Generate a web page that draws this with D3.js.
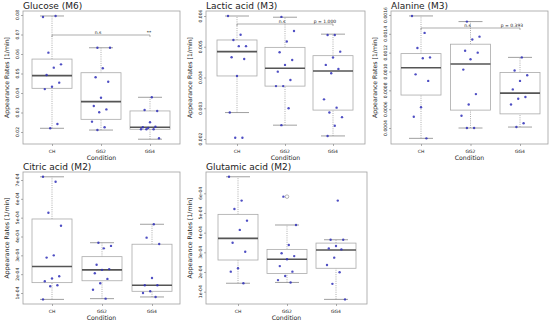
<html>
<head>
<meta charset="utf-8">
<title>Appearance rates</title>
<style>
* { margin: 0; padding: 0; }
body { background: #fff; font-family: "DejaVu Sans", sans-serif; }
svg text { font-family: "DejaVu Sans", sans-serif; fill: #222; }
</style>
<script src="https://cdn.jsdelivr.net/npm/d3@7"></script>
</head>
<body>
<div id="chart"></div>
<script>
// groups along the x axis
var groups = ["CH", "GG2", "GG4"];

// box stats per group: [lower whisker, q1, median, q3, upper whisker]
var glucoseBoxes = [[0.0219, 0.0424, 0.0489, 0.0574, 0.0795], [0.0210, 0.0265, 0.0356, 0.0504, 0.0632], [0.0163, 0.0214, 0.0224, 0.0308, 0.0378]];
var glucosePoints = [
  [0.0790, 0.0795, 0.0607, 0.0547, 0.0530, 0.0492, 0.0453, 0.0432, 0.0420, 0.0241, 0.0219],
  [0.0632, 0.0632, 0.0527, 0.0481, 0.0458, 0.0376, 0.0333, 0.0316, 0.0301, 0.0253, 0.0224, 0.0210],
  [0.0378, 0.0313, 0.0308, 0.0250, 0.0224, 0.0227, 0.0221, 0.0214, 0.0214, 0.0214, 0.0168]];
var glucoseTicks = [0.02, 0.03, 0.04, 0.05, 0.06, 0.07, 0.08];

var lacticBoxes = [[0.00286, 0.00405, 0.00484, 0.00522, 0.00600], [0.00245, 0.00372, 0.00430, 0.00498, 0.00596], [0.00210, 0.00294, 0.00421, 0.00471, 0.00541]];
var lacticPoints = [
  [0.00600, 0.00539, 0.00522, 0.00502, 0.00502, 0.00466, 0.00460, 0.00405, 0.00286, 0.00204, 0.00204],
  [0.00597, 0.00551, 0.00517, 0.00482, 0.00457, 0.00441, 0.00419, 0.00392, 0.00372, 0.00372, 0.00300, 0.00245],
  [0.00538, 0.00538, 0.00484, 0.00465, 0.00441, 0.00428, 0.00414, 0.00329, 0.00302, 0.00286, 0.00271, 0.00243, 0.00210]];
var lacticTicks = [0.002, 0.003, 0.004, 0.005, 0.006];

var alanineBoxes = [[0.00029, 0.00075, 0.00104, 0.00119, 0.00159], [0.00040, 0.00059, 0.00108, 0.00129, 0.00153], [0.00041, 0.00055, 0.00077, 0.00099, 0.00115]];
var alaninePoints = [
  [0.00159, 0.00141, 0.00125, 0.00115, 0.00114, 0.00097, 0.00090, 0.00062, 0.00052, 0.00029],
  [0.00153, 0.00137, 0.00134, 0.00122, 0.00120, 0.00113, 0.00102, 0.00076, 0.00065, 0.00053, 0.00040, 0.00040],
  [0.00115, 0.00101, 0.00096, 0.00090, 0.00081, 0.00073, 0.00071, 0.00065, 0.00045, 0.00041]];
var alanineTicks = [0.0004, 0.0006, 0.0008, 0.0010, 0.0012, 0.0014, 0.0016];

var citricBoxes = [[0.66e-4, 1.55e-4, 2.41e-4, 4.93e-4, 7.17e-4], [0.70e-4, 1.65e-4, 2.23e-4, 2.93e-4, 3.67e-4], [0.79e-4, 1.09e-4, 1.41e-4, 3.59e-4, 4.65e-4]];
var citricPoints = [
  [7.17e-4, 6.91e-4, 5.26e-4, 4.57e-4, 3.00e-4, 2.88e-4, 1.89e-4, 1.77e-4, 1.62e-4, 1.41e-4, 1.36e-4, 0.66e-4],
  [3.67e-4, 3.50e-4, 3.37e-4, 2.50e-4, 2.27e-4, 2.23e-4, 2.05e-4, 1.75e-4, 1.52e-4, 1.17e-4, 0.70e-4],
  [4.65e-4, 3.94e-4, 3.60e-4, 1.80e-4, 1.41e-4, 1.41e-4, 1.09e-4, 1.00e-4, 0.79e-4]];
var citricTicks = [1e-4, 2e-4, 3e-4, 4e-4, 5e-4, 6e-4, 7e-4];

var glutamicBoxes = [[1.43e-4, 2.61e-4, 3.71e-4, 4.93e-4, 6.84e-4], [1.47e-4, 1.93e-4, 2.65e-4, 3.15e-4, 4.39e-4], [0.61e-4, 2.19e-4, 3.12e-4, 3.47e-4, 3.64e-4]];
var glutamicOutliers = [[], [5.83e-4], []];
var glutamicPoints = [
  [6.84e-4, 5.63e-4, 5.20e-4, 4.61e-4, 4.14e-4, 3.49e-4, 3.03e-4, 2.19e-4, 2.02e-4, 1.43e-4],
  [5.83e-4, 4.39e-4, 3.37e-4, 2.95e-4, 2.81e-4, 2.65e-4, 2.30e-4, 2.02e-4, 1.80e-4, 1.59e-4, 1.47e-4],
  [5.63e-4, 3.64e-4, 3.64e-4, 3.32e-4, 3.20e-4, 3.15e-4, 2.73e-4, 2.36e-4, 1.99e-4, 1.40e-4, 0.61e-4]];
var glutamicTicks = [1e-4, 2e-4, 3e-4, 4e-4, 5e-4, 6e-4];

// significance bracket labels (CH vs GG4)
var glucoseSig = ["n.s", "**"];
var lacticSig = ["n.s", "p = 1.000"];
var alanineSig = ["n.s", "p = 0.393"];

var eFmt = function(d) { return Math.round(d * 1e4) + "e-04"; };

var panels = [
  { title: "Glucose (M6)", boxes: glucoseBoxes, points: glucosePoints, outliers: null, ticks: glucoseTicks, fmt: d3.format(".2f"),
    left: 23, right: 180, top: 11, bottom: 144, tickPx: [132, 15], xPx: [52, 150], sig: glucoseSig, sigY: 35 },
  { title: "Lactic acid (M3)", boxes: lacticBoxes, points: lacticPoints, outliers: null, ticks: lacticTicks, fmt: d3.format(".3f"),
    left: 206, right: 365, top: 11, bottom: 144, tickPx: [139, 16], xPx: [237, 333], sig: lacticSig, sigY: 24 },
  { title: "Alanine (M3)", boxes: alanineBoxes, points: alaninePoints, outliers: null, ticks: alanineTicks, fmt: d3.format(".4f"),
    left: 391, right: 548, top: 11, bottom: 144, tickPx: [128, 15], xPx: [421, 520], sig: alanineSig, sigY: 28 },
  { title: "Citric acid (M2)", boxes: citricBoxes, points: citricPoints, outliers: null, ticks: citricTicks, fmt: eFmt,
    left: 23, right: 180, top: 172, bottom: 304, tickPx: [293, 180], xPx: [52, 152], sig: null },
  { title: "Glutamic acid (M2)", boxes: glutamicBoxes, points: glutamicPoints, outliers: glutamicOutliers, ticks: glutamicTicks, fmt: eFmt,
    left: 206, right: 367, top: 172, bottom: 304, tickPx: [291.7, 193.3], xPx: [238, 336], sig: null }
];

var svg = d3.select("#chart").append("svg")
  .attr("width", 550)
  .attr("height", 325);

// small deterministic jitter, in pixels
function jitter(g, i) {
  return (((i * 7 + g * 3) % 11) - 5) * 1.8;
}

function drawPanel(p) {
  var g = svg.append("g");
  var y = d3.scaleLinear().domain([p.ticks[0], p.ticks[p.ticks.length - 1]]).range(p.tickPx);
  var x = d3.scalePoint().domain(groups).range(p.xPx);
  var bw = 40;

  // frame
  g.append("rect")
    .attr("x", p.left).attr("y", p.top)
    .attr("width", p.right - p.left).attr("height", p.bottom - p.top)
    .attr("fill", "none").attr("stroke", "#a0a0a0").attr("stroke-width", 0.8);

  // title
  g.append("text").attr("x", p.left).attr("y", p.top - 2.5)
    .attr("font-size", 9).text(p.title);

  // y axis ticks
  var ya = g.append("g").attr("transform", "translate(" + p.left + ",0)")
    .call(d3.axisLeft(y).tickValues(p.ticks).tickSize(2).tickFormat(""));
  ya.select(".domain").remove();
  ya.selectAll("line").attr("stroke", "#777").attr("stroke-width", 0.6);
  p.ticks.forEach(function(t) {
    g.append("text")
      .attr("transform", "translate(" + (p.left - 4) + "," + y(t) + ") rotate(-90)")
      .attr("text-anchor", "middle").attr("font-size", 4.5).attr("fill", "#444")
      .text(p.fmt(t));
  });
  g.append("text")
    .attr("transform", "translate(" + (p.left - 14) + "," + ((p.top + p.bottom) / 2) + ") rotate(-90)")
    .attr("text-anchor", "middle").attr("font-size", 6.2).text("Appearance Rates [1/min]");

  // x axis ticks
  var xa = g.append("g").attr("transform", "translate(0," + p.bottom + ")")
    .call(d3.axisBottom(x).tickSize(2).tickFormat(""));
  xa.select(".domain").remove();
  xa.selectAll("line").attr("stroke", "#777").attr("stroke-width", 0.6);
  groups.forEach(function(c) {
    g.append("text").attr("x", x(c)).attr("y", p.bottom + 9)
      .attr("text-anchor", "middle").attr("font-size", 4.5).attr("fill", "#444").text(c);
  });
  g.append("text").attr("x", (p.left + p.right) / 2).attr("y", p.bottom + 16)
    .attr("text-anchor", "middle").attr("font-size", 6.2).text("Condition");

  // boxes
  p.boxes.forEach(function(b, gi) {
    var cx = x(groups[gi]);
    // whiskers
    g.append("line").attr("x1", cx).attr("x2", cx).attr("y1", y(b[0])).attr("y2", y(b[1]))
      .attr("stroke", "#999").attr("stroke-width", 0.8).attr("stroke-dasharray", "1,1.2");
    g.append("line").attr("x1", cx).attr("x2", cx).attr("y1", y(b[3])).attr("y2", y(b[4]))
      .attr("stroke", "#999").attr("stroke-width", 0.8).attr("stroke-dasharray", "1,1.2");
    [b[0], b[4]].forEach(function(v) {
      g.append("line").attr("x1", cx - 12).attr("x2", cx + 12).attr("y1", y(v)).attr("y2", y(v))
        .attr("stroke", "#888").attr("stroke-width", 0.8);
    });
    g.append("rect").attr("x", cx - bw / 2).attr("y", y(b[3]))
      .attr("width", bw).attr("height", y(b[1]) - y(b[3]))
      .attr("fill", "#fff").attr("stroke", "#aaa").attr("stroke-width", 0.8);
    g.append("line").attr("x1", cx - bw / 2).attr("x2", cx + bw / 2).attr("y1", y(b[2])).attr("y2", y(b[2]))
      .attr("stroke", "#555").attr("stroke-width", 1.6);
    if (p.outliers) {
      p.outliers[gi].forEach(function(v) {
        g.append("circle").attr("cx", cx).attr("cy", y(v)).attr("r", 1.8)
          .attr("fill", "none").attr("stroke", "#888").attr("stroke-width", 0.6);
      });
    }
  });

  // jittered points
  p.points.forEach(function(vals, gi) {
    var cx = x(groups[gi]);
    vals.forEach(function(v, i) {
      g.append("circle").attr("cx", cx + jitter(gi, i)).attr("cy", y(v)).attr("r", 1.2)
        .attr("fill", "#2f2fb8").attr("fill-opacity", 0.85);
    });
  });

  // significance bracket CH vs GG4
  if (p.sig) {
    var x0 = x(groups[0]), x2 = x(groups[2]), x1 = x(groups[1]);
    g.append("path")
      .attr("d", "M" + x0 + "," + (p.sigY + 2) + "V" + p.sigY + "H" + x2 + "V" + (p.sigY + 2))
      .attr("fill", "none").attr("stroke", "#777").attr("stroke-width", 0.6);
    g.append("text").attr("x", x1 - 3).attr("y", p.sigY - 1)
      .attr("text-anchor", "middle").attr("font-size", 4.5).text(p.sig[0]);
    g.append("text").attr("x", x2 - 8 + (p.sig[1].length < 3 ? 7 : 0)).attr("y", p.sigY - 1)
      .attr("text-anchor", "middle").attr("font-size", 4.5).text(p.sig[1]);
  }
}

panels.forEach(drawPanel);
</script>
</body>
</html>
